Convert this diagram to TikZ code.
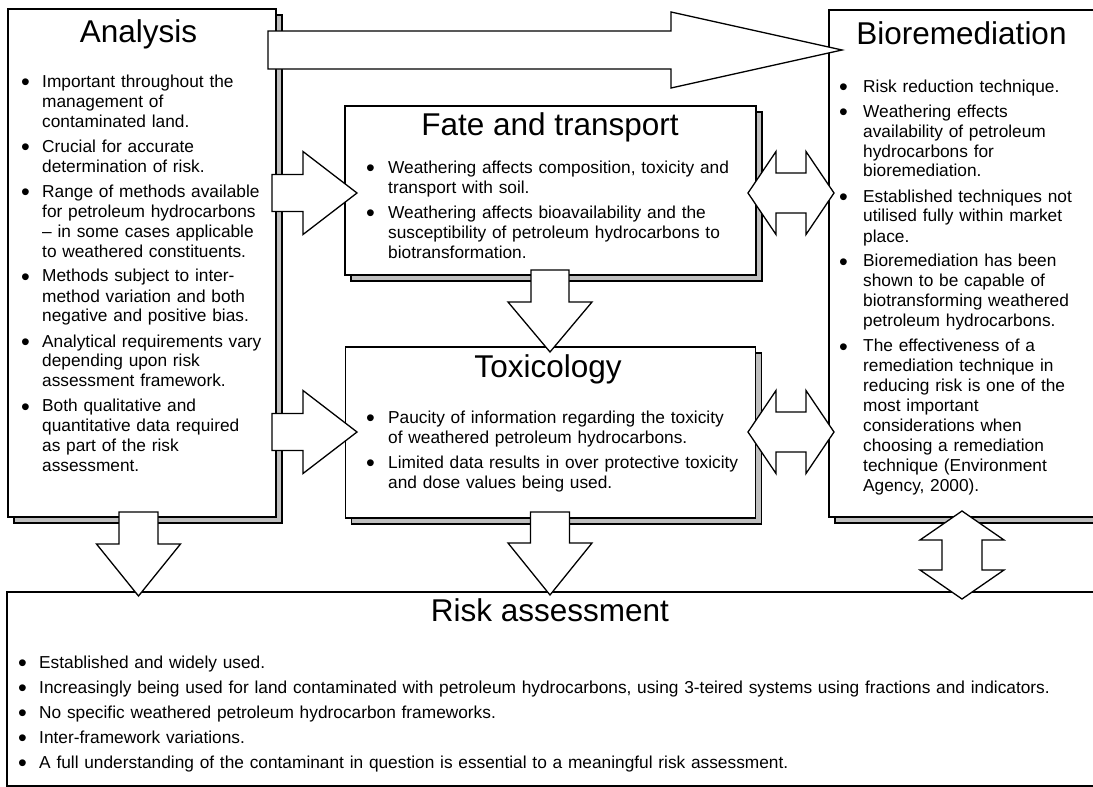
\documentclass[tikz,border=0pt]{standalone}
\usepackage{fontspec}
\setmainfont{Liberation Sans}
\usetikzlibrary{shadows}
\newlength\bhang
\newcommand\bdot{\hspace{-1pt}\raisebox{-3.6pt}{\fontsize{25}{20}\selectfont •}}
\newcommand\bitem[1]{\hangindent=\bhang\hangafter=1\noindent\makebox[\bhang][l]{\bdot}#1\par\vspace{5pt}}
\newcommand\sarrow[6]{% tail, rotation, length, body half, head half, head length
  \begin{scope}[shift={(#1)},rotate=#2]
    \draw[blk] (0,-#4) -- ({#3-#6},-#4) -- ({#3-#6},-#5) -- (#3,0) -- ({#3-#6},#5) -- ({#3-#6},#4) -- (0,#4) -- cycle;
  \end{scope}}
\newcommand\darrow[6]{% tip, rotation, length, body half, head half, head length
  \begin{scope}[shift={(#1)},rotate=#2]
    \draw[blk] (0,0) -- (#6,-#5) -- (#6,-#4) -- ({#3-#6},-#4) -- ({#3-#6},-#5) -- (#3,0) -- ({#3-#6},#5) -- ({#3-#6},#4) -- (#6,#4) -- (#6,#5) -- cycle;
  \end{scope}}
\begin{document}
\begin{tikzpicture}[x=1pt,y=-1pt,
  box/.style={draw, line width=1.3pt, fill=white, inner sep=0pt, rectangle},
  shad/.style={general shadow={shadow xshift=6pt, shadow yshift=-6pt, fill=black!25, draw=black, line width=1.3pt}},
  title/.style={anchor=base, inner sep=0pt, font=\fontsize{31.5}{36}\selectfont},
  list/.style={anchor=base west, inner sep=0pt, align=left, font=\fontsize{17.3}{20}\selectfont},
  blk/.style={draw, line width=1.3pt, fill=white, line join=miter}]
\fill[white] (0,0) rectangle (1093,787);
\useasboundingbox (0,0) rectangle (1093,787);

% boxes
\node[box, shad, minimum width=268pt, minimum height=508pt] (analysis) at (142,263) {};
\node[box, shad, minimum width=411pt, minimum height=169pt] (fate) at (550.5,190.5) {};
\node[box, shad, minimum width=410pt, minimum height=171pt] (tox) at (550.5,432.5) {};
\node[box, shad, minimum width=266pt, minimum height=507pt] (bio) at (962,263.5) {};
\node[box, minimum width=1091pt, minimum height=194pt] (risk) at (552.5,689) {};

% titles
\node[title] (analysisT) at (138.5,42) {Analysis};
\node[title] (fateT) at (550,135) {Fate and transport};
\node[title] (toxT) at (548,377) {Toxicology};
\node[title] (bioT) at (961.5,44) {Bioremediation};
\node[title] (riskT) at (550,621) {Risk assessment};

% lists
\node[list, text width=320pt] (analysisL) at (22,87) {\setlength\bhang{20pt}%
\bitem{Important throughout the\newline management of\newline contaminated land.}
\bitem{Crucial for accurate\newline determination of risk.}
\bitem{Range of methods available\newline for petroleum hydrocarbons\newline – in some cases applicable\newline to weathered constituents.}
\bitem{Methods subject to inter-\newline method variation and both\newline negative and positive bias.}
\bitem{Analytical requirements vary\newline depending upon risk\newline assessment framework.}
\bitem{Both qualitative and\newline quantitative data required\newline as part of the risk\newline assessment.}};

\node[list, text width=480pt] (fateL) at (367,173) {\setlength\bhang{21pt}%
\bitem{Weathering affects composition, toxicity and\newline transport with soil.}
\bitem{Weathering affects bioavailability and the\newline susceptibility of petroleum hydrocarbons to\newline biotransformation.}};

\node[list, text width=480pt] (toxL) at (367,423) {\setlength\bhang{21pt}%
\bitem{Paucity of information regarding the toxicity\newline of weathered petroleum hydrocarbons.}
\bitem{Limited data results in over protective toxicity\newline and dose values being used.}};

\node[list, text width=320pt] (bioL) at (840,92) {\setlength\bhang{23pt}%
\bitem{Risk reduction technique.}
\bitem{Weathering effects\newline availability of petroleum\newline hydrocarbons for\newline bioremediation.}
\bitem{Established techniques not\newline utilised fully within market\newline place.}
\bitem{Bioremediation has been\newline shown to be capable of\newline biotransforming weathered\newline petroleum hydrocarbons.}
\bitem{The effectiveness of a\newline remediation technique in\newline reducing risk is one of the\newline most important\newline considerations when\newline choosing a remediation\newline technique (Environment\newline Agency, 2000).}};

\node[list, text width=1200pt] (riskL) at (19,668) {\setlength\bhang{20pt}%
\bitem{Established and widely used.}
\bitem{Increasingly being used for land contaminated with petroleum hydrocarbons, using 3-teired systems using fractions and indicators.}
\bitem{No specific weathered petroleum hydrocarbon frameworks.}
\bitem{Inter-framework variations.}
\bitem{A full understanding of the contaminant in question is essential to a meaningful risk assessment.}};

% arrow anchor coordinates
\coordinate (a2b) at (268,50);
\coordinate (a2f) at (272,193);
\coordinate (a2t) at (272,432);
\coordinate (fb) at (748,193);
\coordinate (tb) at (748,432);
\coordinate (f2t) at (550,270);
\coordinate (a2r) at (138.5,512);
\coordinate (t2r) at (550,512);
\coordinate (br) at (962,511);

% block arrows
\sarrow{a2b}{0}{574}{19}{38}{171}
\sarrow{a2f}{0}{85}{18.5}{41.5}{54}
\sarrow{a2t}{0}{85}{18.5}{41.5}{54}
\darrow{fb}{0}{86}{20}{41.5}{28}
\darrow{tb}{0}{86}{20}{41.5}{28}
\sarrow{f2t}{-90}{82}{19}{42}{50}
\sarrow{a2r}{-90}{84}{19.5}{42}{52}
\sarrow{t2r}{-90}{83}{19.5}{42}{52}
\darrow{br}{-90}{88}{20}{42}{29}
\end{tikzpicture}
\end{document}
